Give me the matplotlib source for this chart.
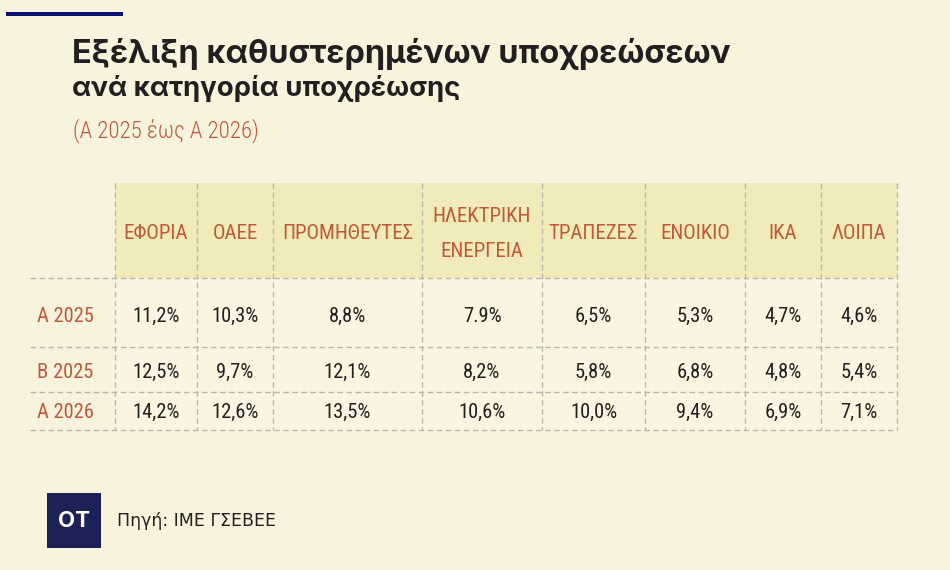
import matplotlib
matplotlib.use("Agg")
import matplotlib.pyplot as plt
from matplotlib import font_manager
from matplotlib.patches import Rectangle

BG = "#f8f3dc"
HEAD_BG = "#f1eab9"
CELL_BG = "#f9f5e0"
RED = "#c0583f"
INK = "#231f20"
GRID = "#b9b8ae"
NAVY = "#0b1273"
LOGO = "#1c2255"

# ── data ─────────────────────────────────────────────
categories = ["ΕΦΟΡΙΑ", "ΟΑΕΕ", "ΠΡΟΜΗΘΕΥΤΕΣ", "ΗΛΕΚΤΡΙΚΗ\nΕΝΕΡΓΕΙΑ",
              "ΤΡΑΠΕΖΕΣ", "ΕΝΟΙΚΙΟ", "ΙΚΑ", "ΛΟΙΠΑ"]
periods = ["Α 2025", "Β 2025", "Α 2026"]
a_2025 = [11.2, 10.3, 8.8, 7.9, 6.5, 5.3, 4.7, 4.6]
b_2025 = [12.5, 9.7, 12.1, 8.2, 5.8, 6.8, 4.8, 5.4]
a_2026 = [14.2, 12.6, 13.5, 10.6, 10.0, 9.4, 6.9, 7.1]
series = [a_2025, b_2025, a_2026]
dot_cells = {(0, 3)}   # source prints "7.9%" with a dot

# ── layout (pixels) ──────────────────────────────────
col_edges = [115, 197, 273, 422, 542, 645, 745, 821, 897]
head_top, head_bot = 183, 278
row_edges = [278, 347, 392, 430]
row_base = [321.5, 378, 418]
left_x = 30

names = {f.name for f in font_manager.fontManager.ttflist}


def pick(*cands):
    for c in cands:
        if c in names:
            return c
    return "DejaVu Sans"


COND = pick("Roboto Condensed", "Liberation Sans Narrow", "Roboto")
narrow = COND != "Roboto"
TITLE = pick("Inter", "Roboto")
FS_HEAD = 15 if narrow else 12.5
FS_VAL = 14.8 if narrow else 12.5

fig = plt.figure(figsize=(9.5, 5.7), dpi=100, facecolor=BG)
ax = fig.add_axes([0, 0, 1, 1])
ax.set_xlim(0, 950)
ax.set_ylim(570, 0)
ax.axis("off")
ax.set_facecolor(BG)

# top rule
ax.add_patch(Rectangle((6, 12), 117, 4, color=NAVY, lw=0))

# titles
ax.text(72, 63, "Εξέλιξη καθυστερημένων υποχρεώσεων", family=TITLE,
        fontweight="bold", fontsize=23.4, color=INK, va="baseline")
ax.text(72, 96, "ανά κατηγορία υποχρέωσης", family=TITLE,
        fontweight="bold", fontsize=19.8, color=INK, va="baseline")
ax.text(73, 137, "(Α 2025 έως Α 2026)", family=COND, fontweight="light",
        fontsize=16.5 if narrow else 13.5, color=RED, va="baseline")

# cell fills
ax.add_patch(Rectangle((col_edges[0], head_top), col_edges[-1] - col_edges[0],
                       head_bot - head_top, color=HEAD_BG, lw=0))
ax.add_patch(Rectangle((col_edges[0], row_edges[0]), col_edges[-1] - col_edges[0],
                       row_edges[-1] - row_edges[0], color=CELL_BG, lw=0))

# dashed grid
dash = dict(color=GRID, lw=1, linestyle=(0, (4, 2.5)))
for x in col_edges:
    ax.plot([x, x], [head_top, row_edges[-1]], **dash)
for y in row_edges:
    ax.plot([left_x, col_edges[-1]], [y, y], **dash)

# header labels
centers = [(col_edges[i] + col_edges[i + 1]) / 2 for i in range(len(categories))]
for cx, cat in zip(centers, categories):
    lines = cat.split("\n")
    if len(lines) == 1:
        ax.text(cx, 239, cat, family=COND, fontsize=FS_HEAD, color=RED,
                ha="center", va="baseline")
    else:
        for ln, yb in zip(lines, [222, 257]):
            ax.text(cx, yb, ln, family=COND, fontsize=FS_HEAD, color=RED,
                    ha="center", va="baseline")

# rows
for r, (lab, vals) in enumerate(zip(periods, series)):
    ax.text(37, row_base[r], lab, family=COND, fontsize=FS_VAL, color=RED,
            va="baseline")
    for c, v in enumerate(vals):
        s = f"{v:.1f}"
        if (r, c) not in dot_cells:
            s = s.replace(".", ",")
        ax.text(centers[c], row_base[r], s + "%", family=COND, fontsize=FS_VAL,
                color=INK, ha="center", va="baseline")

# footer
ax.add_patch(Rectangle((47, 493), 54, 55, color=LOGO, lw=0))
ax.text(74, 521, "OT", family=TITLE, fontweight="bold", fontsize=16,
        color="white", ha="center", va="center")
ax.text(117, 526, "Πηγή: ΙΜΕ ΓΣΕΒΕΕ", family="DejaVu Sans", fontsize=12.5,
        color=INK, va="baseline")

fig.savefig("out.png", dpi=100, facecolor=BG)
